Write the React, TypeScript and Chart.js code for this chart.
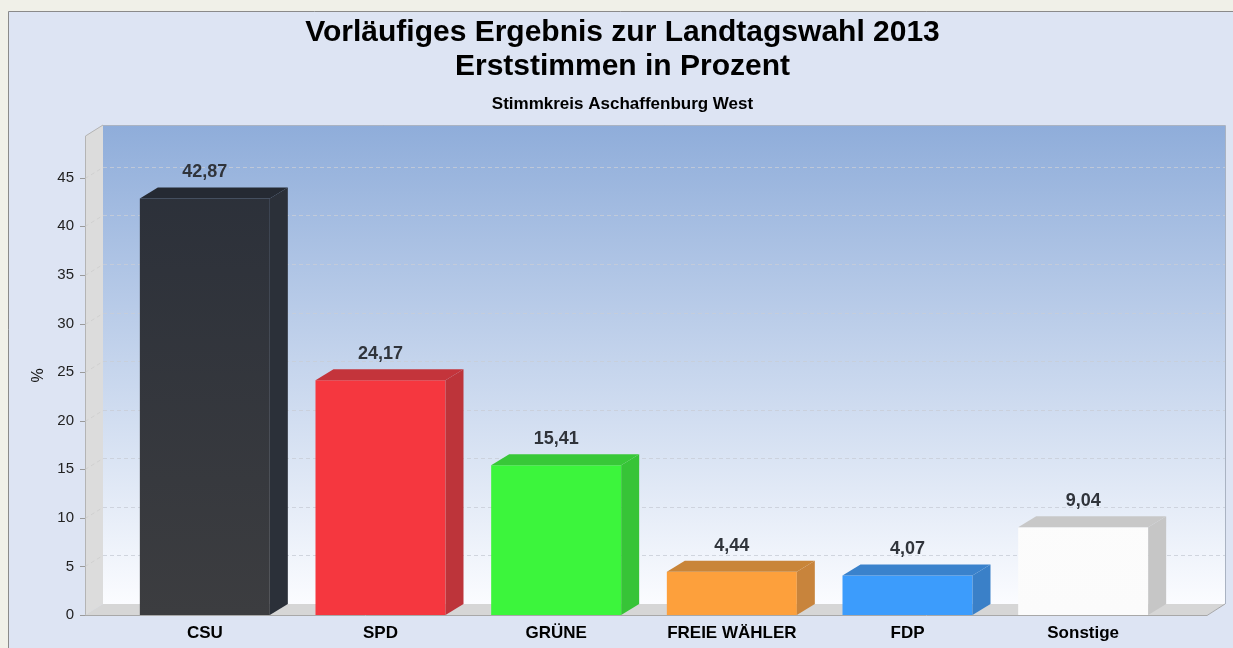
import React, { useEffect, useRef } from "react";
import { Chart, registerables } from "chart.js";

Chart.register(...registerables);

const categories = ["CSU", "SPD", "GRÜNE", "FREIE WÄHLER", "FDP", "Sonstige"];
const values = [42.87, 24.17, 15.41, 4.44, 4.07, 9.04];
const frontTop = ["#2a2f39", "#f5373f", "#3cf53c", "#fda03c", "#3c9cfc", "#ffffff"];
const frontBottom = ["#3c3d40", "#f5373f", "#3cf53c", "#fda03c", "#3c9cfc", "#fbfbfb"];
const sideColors = ["#2b3039", "#bd343a", "#37c437", "#c8843c", "#3a80c8", "#c6c6c6"];
const topColors = ["#252a33", "#c4343b", "#38c838", "#c98539", "#3a82cc", "#c8c8c8"];
const yTicks = [0, 5, 10, 15, 20, 25, 30, 35, 40, 45];
const titleLines = ["Vorläufiges Ergebnis zur Landtagswahl 2013", "Erststimmen in Prozent"];
const subTitle = "Stimmkreis Aschaffenburg West";
const yTitle = "%";

const FONT = "'Liberation Sans', Arial, sans-serif";
const DX = 18;
const DY = 11;

const fmt = (v: number) => v.toFixed(2).replace(".", ",");

const scenePlugin = {
  id: "scene3d",
  beforeDraw(chart: any) {
    const { ctx, chartArea: ca, width, height } = chart;
    const y = chart.scales.y;
    ctx.save();
    ctx.fillStyle = "#f0f0e8";
    ctx.fillRect(0, 0, width, height);
    ctx.fillStyle = "#dde4f3";
    ctx.fillRect(8, 11, width, height);
    ctx.strokeStyle = "#8a8a8a";
    ctx.lineWidth = 1;
    ctx.beginPath();
    ctx.moveTo(8.5, height);
    ctx.lineTo(8.5, 11.5);
    ctx.lineTo(width, 11.5);
    ctx.stroke();

    const cx = width / 2 + 6;
    ctx.fillStyle = "#000";
    ctx.textAlign = "center";
    ctx.textBaseline = "middle";
    ctx.font = `bold 30px ${FONT}`;
    ctx.fillText(titleLines[0], cx, 33);
    ctx.fillText(titleLines[1], cx, 67);
    ctx.font = `bold 17px ${FONT}`;
    ctx.fillText(subTitle, cx, 104);

    const frontLeft = ca.left - 32;
    const frontRight = ca.right + 36;
    const backLeft = frontLeft + DX;
    const backRight = frontRight + DX;
    const top = ca.top;
    const bottom = ca.bottom;
    const backTop = top - DY;
    const backBottom = bottom - DY;

    const g = ctx.createLinearGradient(0, backTop, 0, backBottom);
    g.addColorStop(0, "#8fadda");
    g.addColorStop(1, "#fbfcff");
    ctx.fillStyle = g;
    ctx.fillRect(backLeft, backTop, backRight - backLeft, backBottom - backTop);
    ctx.strokeStyle = "#aab3c2";
    ctx.beginPath();
    ctx.moveTo(backLeft, backTop + 0.5);
    ctx.lineTo(backRight + 0.5, backTop + 0.5);
    ctx.lineTo(backRight + 0.5, backBottom);
    ctx.stroke();

    ctx.fillStyle = "#dcdcdc";
    ctx.beginPath();
    ctx.moveTo(frontLeft, top);
    ctx.lineTo(backLeft, backTop);
    ctx.lineTo(backLeft, backBottom);
    ctx.lineTo(frontLeft, bottom);
    ctx.closePath();
    ctx.fill();
    ctx.strokeStyle = "#b4b4b4";
    ctx.beginPath();
    ctx.moveTo(frontLeft + 0.5, bottom);
    ctx.lineTo(frontLeft + 0.5, top);
    ctx.lineTo(backLeft, backTop);
    ctx.stroke();

    ctx.fillStyle = "#d6d6d6";
    ctx.beginPath();
    ctx.moveTo(frontLeft, bottom);
    ctx.lineTo(backLeft, backBottom);
    ctx.lineTo(backRight, backBottom);
    ctx.lineTo(frontRight, bottom);
    ctx.closePath();
    ctx.fill();
    ctx.strokeStyle = "#a8a8a8";
    ctx.beginPath();
    ctx.moveTo(frontLeft, bottom + 0.5);
    ctx.lineTo(frontRight, bottom + 0.5);
    ctx.lineTo(backRight, backBottom);
    ctx.stroke();

    ctx.lineWidth = 1;
    yTicks.forEach((v) => {
      const py = Math.round(y.getPixelForValue(v));
      if (v > 0) {
        ctx.setLineDash([4, 3]);
        ctx.strokeStyle = "rgba(200,205,215,0.8)";
        ctx.beginPath();
        ctx.moveTo(backLeft, py - DY + 0.5);
        ctx.lineTo(backRight, py - DY + 0.5);
        ctx.stroke();
        ctx.strokeStyle = "rgba(200,200,200,0.6)";
        ctx.beginPath();
        ctx.moveTo(frontLeft, py + 0.5);
        ctx.lineTo(backLeft, py - DY + 0.5);
        ctx.stroke();
        ctx.setLineDash([]);
      }
      ctx.strokeStyle = "#9a9a9a";
      ctx.beginPath();
      ctx.moveTo(frontLeft - 5, py + 0.5);
      ctx.lineTo(frontLeft, py + 0.5);
      ctx.stroke();
    });
    ctx.restore();
  },
  afterDatasetsDraw(chart: any) {
    const { ctx } = chart;
    const meta = chart.getDatasetMeta(0);
    ctx.save();
    meta.data.forEach((bar: any, i: number) => {
      const { x, y, base, width } = bar.getProps(["x", "y", "base", "width"], true);
      const l = x - width / 2;
      const r = x + width / 2;
      ctx.fillStyle = sideColors[i];
      ctx.beginPath();
      ctx.moveTo(r, y);
      ctx.lineTo(r + DX, y - DY);
      ctx.lineTo(r + DX, base - DY);
      ctx.lineTo(r, base);
      ctx.closePath();
      ctx.fill();
      ctx.fillStyle = topColors[i];
      ctx.beginPath();
      ctx.moveTo(l, y);
      ctx.lineTo(l + DX, y - DY);
      ctx.lineTo(r + DX, y - DY);
      ctx.lineTo(r, y);
      ctx.closePath();
      ctx.fill();
      ctx.fillStyle = "#30343b";
      ctx.font = `bold 18px ${FONT}`;
      ctx.textAlign = "center";
      ctx.textBaseline = "middle";
      ctx.fillText(fmt(values[i]), x, y - 26);
    });
    ctx.restore();
  },
};

export default function App() {
  const ref = useRef<HTMLCanvasElement | null>(null);
  useEffect(() => {
    if (!ref.current) return;
    const chart = new Chart(ref.current, {
      type: "bar",
      data: {
        labels: categories,
        datasets: [
          {
            data: values,
            backgroundColor: (c: any) => {
              const i = c.dataIndex;
              const area = c.chart.chartArea;
              if (!area || i === undefined) return frontTop[i ?? 0];
              const g = c.chart.ctx.createLinearGradient(0, area.top, 0, area.bottom);
              g.addColorStop(0, frontTop[i]);
              g.addColorStop(1, frontBottom[i]);
              return g;
            },
            borderWidth: 0,
            barPercentage: 0.74,
            categoryPercentage: 1,
          },
        ],
      },
      options: {
        responsive: false,
        animation: false,
        devicePixelRatio: 1,
        layout: { padding: { top: 136, left: 12, right: 62, bottom: 4.6 } },
        plugins: {
          legend: { display: false },
          title: { display: false },
          tooltip: { enabled: false },
        },
        scales: {
          x: {
            grid: { display: false },
            border: { display: false },
            ticks: {
              color: "#000",
              padding: 0,
              maxRotation: 0,
              autoSkip: false,
              font: { family: FONT, size: 17, weight: "bold" },
            },
          },
          y: {
            min: 0,
            max: 49.3,
            grid: { display: false, tickLength: 35 },
            border: { display: false },
            ticks: {
              stepSize: 5,
              color: "#222",
              padding: 8,
              font: { family: FONT, size: 15 },
            },
            afterBuildTicks: (s: any) => {
              s.ticks = yTicks.map((v) => ({ value: v }));
            },
            title: {
              display: true,
              text: yTitle,
              color: "#111",
              font: { family: FONT, size: 16 },
              padding: { top: 17, bottom: 0 },
            },
            afterFit: (s: any) => {
              s.width = 105;
            },
          },
        },
      },
      plugins: [scenePlugin],
    });
    return () => chart.destroy();
  }, []);
  return (
    <div style={{ position: "fixed", left: 0, top: 0, width: 1233, height: 648 }}>
      <canvas ref={ref} width={1233} height={648} style={{ display: "block" }} />
    </div>
  );
}
